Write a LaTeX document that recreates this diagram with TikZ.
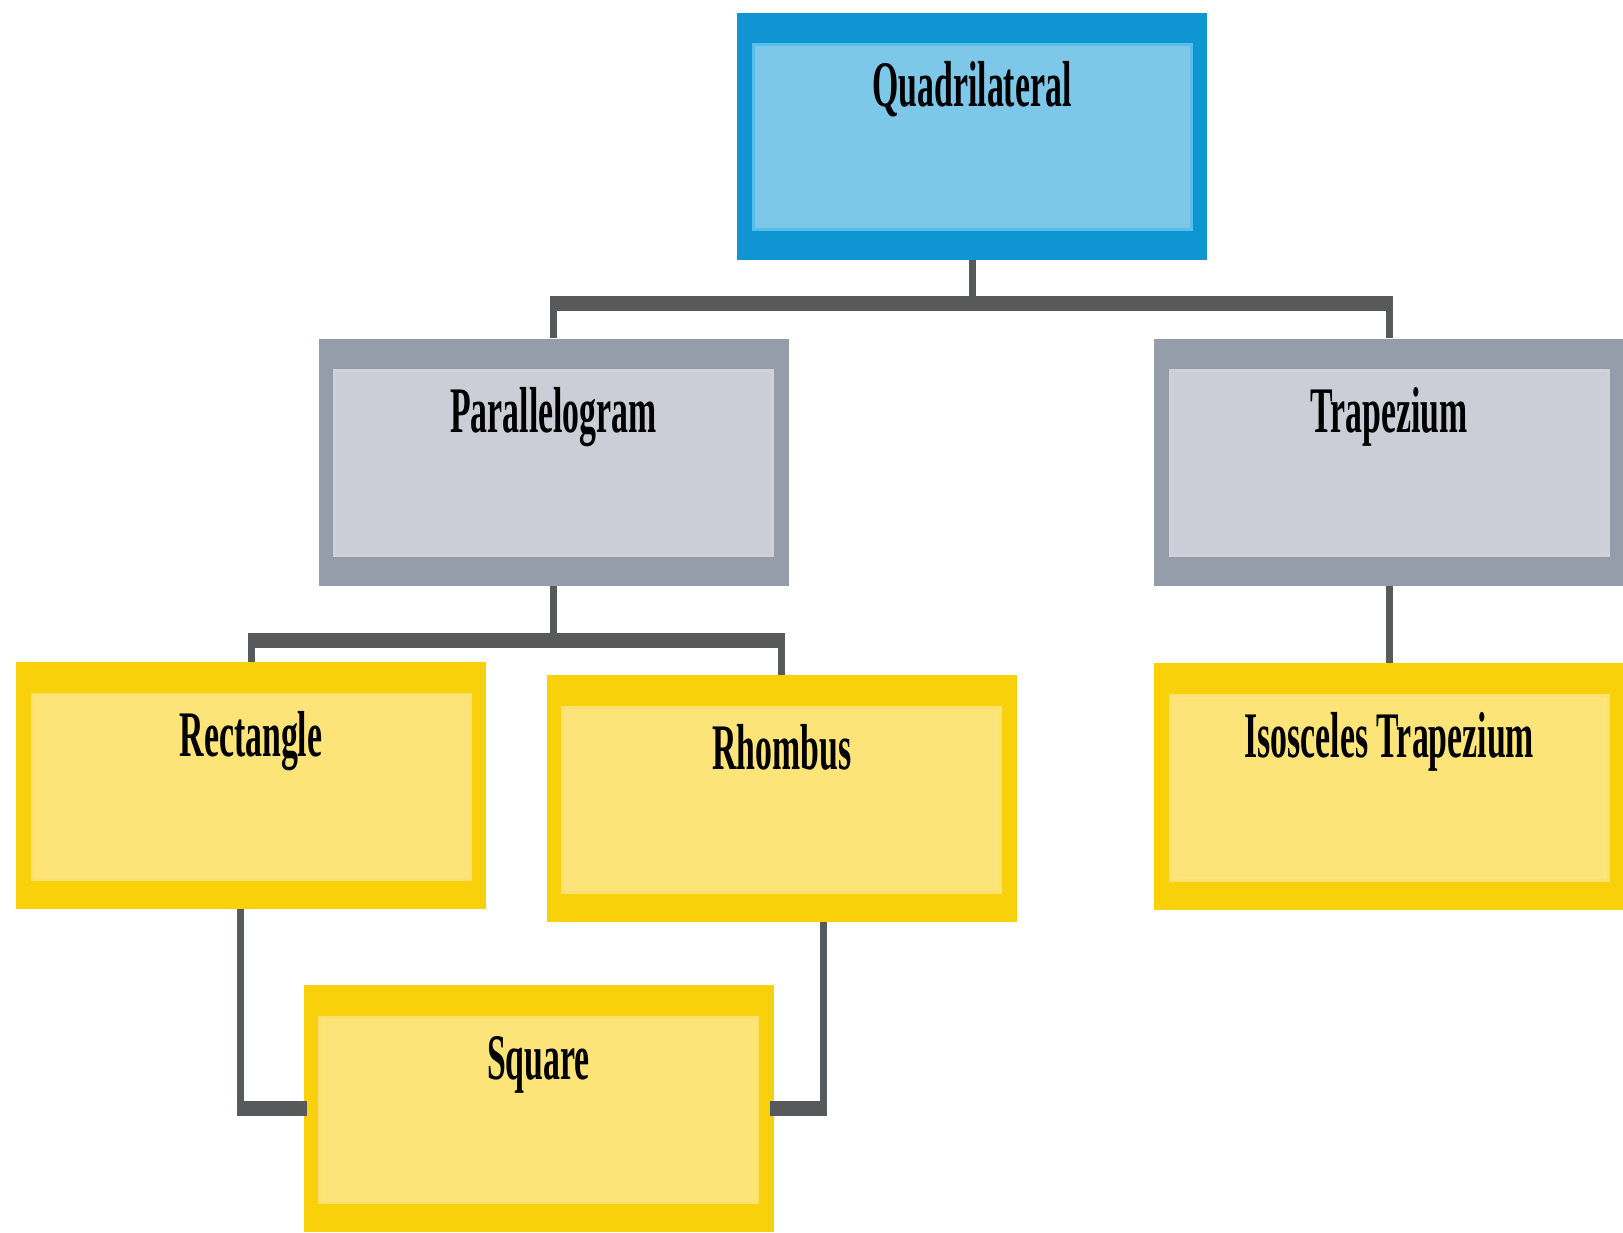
\documentclass[tikz,border=0pt]{standalone}
\usepackage{fontspec}
\newfontfamily\boxfont{Liberation Serif}[FakeStretch=0.52]
\usetikzlibrary{positioning}

\definecolor{blueout}{HTML}{0F96D2}
\definecolor{bluein}{HTML}{7DC8E8}
\definecolor{bluerim}{HTML}{55BFEC}
\definecolor{greyout}{HTML}{969DAA}
\definecolor{greyin}{HTML}{CBCED6}
\definecolor{greyrim}{HTML}{CFD2D9}
\definecolor{goldout}{HTML}{F9D10A}
\definecolor{goldin}{HTML}{FDE478}
\definecolor{goldrim}{HTML}{FCE070}
\definecolor{linkgrey}{HTML}{58595B}

\tikzset{
  shapebox/.style n args={3}{fill=#1, minimum width=235pt, inner xsep=0pt,
    inner ysep=0pt, text height=47pt, text depth=76.5pt, text=black,
    font=\boxfont\bfseries\fontsize{32.5}{36}\selectfont,
    path picture={\fill[#2, draw=#3, line width=1.5pt]
      ([xshift=8pt,yshift=-16pt]path picture bounding box.north west) rectangle
      ([xshift=-8pt,yshift=15pt]path picture bounding box.south east);}},
  bluebox/.style={shapebox={blueout}{bluein}{bluerim}},
  greybox/.style={shapebox={greyout}{greyin}{greyrim}},
  goldbox/.style={shapebox={goldout}{goldin}{goldrim}},
  stem/.style={draw=linkgrey, line width=3.5pt},
  bus/.style={draw=linkgrey, line width=7.5pt, shorten <=-1.75pt, shorten >=-1.75pt},
}

\begin{document}
\begin{tikzpicture}[x=0.5pt, y=-0.5pt]
      \path[use as bounding box, fill=white] (0,0) rectangle (1623,1232);
      \node[bluebox] (quad) at (972,136) {Quadrilateral};
      \node[greybox] (para) at (553.5,462) {Parallelogram};
      \node[greybox, right=182.5pt of para] (trap) {Trapezium};
      \node[goldbox] (rect) at (251,785.5) {Rectangle};
      \node[goldbox, right=30pt of rect, yshift=-6.5pt] (rhombus) {Rhombus};
      \node[goldbox, below=38.5pt of trap] (isos) {Isosceles Trapezium};
      \node[goldbox] (square) at (538.5,1108.5) {Square};
      % bus heights
      \coordinate (topbus) at (0,303);
      \coordinate (midbus) at (0,640);
      \coordinate (rectfoot) at ([xshift=-5.5pt]rect.south);
      \coordinate (rhomfoot) at ([xshift=21pt]rhombus.south);
      \draw[stem] (quad.south) -- (quad.south |- topbus);
      \draw[bus] (para.north |- topbus) -- (trap.north |- topbus);
      \draw[stem] (para.north |- topbus) -- (para.north);
      \draw[stem] (trap.north |- topbus) -- (trap.north);
      \draw[stem] (para.south) -- (para.south |- midbus);
      \draw[bus] (rect.north |- midbus) -- (rhombus.north |- midbus);
      \draw[stem] (rect.north |- midbus) -- (rect.north);
      \draw[stem] (rhombus.north |- midbus) -- (rhombus.north);
      \draw[stem] (trap.south) -- (isos.north);
      \draw[stem] (rectfoot) -- (rectfoot |- square.west);
      \draw[bus] (rectfoot |- square.west) -- (square.west);
      \draw[stem] (rhomfoot) -- (rhomfoot |- square.east);
      \draw[bus] (square.east) -- (rhomfoot |- square.east);
    \end{tikzpicture}
\end{document}
